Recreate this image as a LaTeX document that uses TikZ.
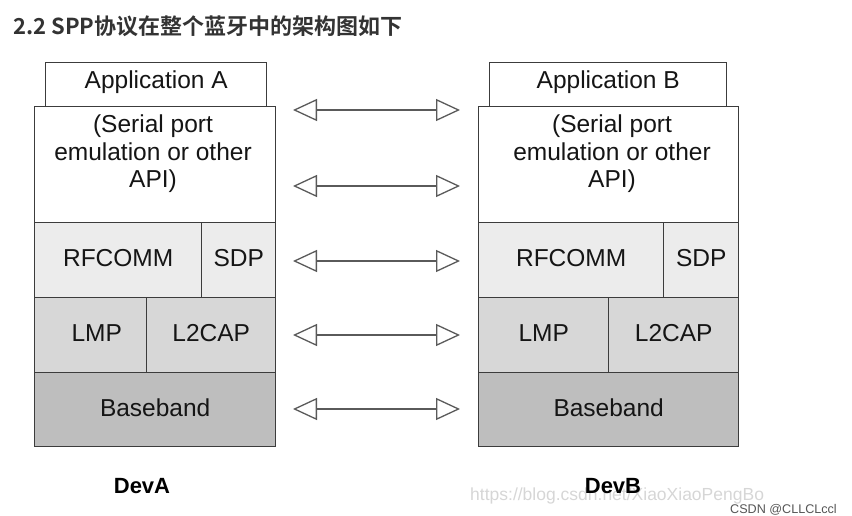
\documentclass[tikz,border=0pt]{standalone}
\usepackage{fontspec}
\setmainfont{Liberation Sans}
\newfontfamily\cjkb{Noto Sans CJK SC Bold}
\usetikzlibrary{arrows.meta}
\definecolor{boxc}{HTML}{3C3C3C}
\definecolor{rowa}{HTML}{ECECEC}
\definecolor{rowb}{HTML}{D7D7D7}
\definecolor{rowc}{HTML}{BEBEBE}
\definecolor{arrc}{HTML}{5A5A5A}
\definecolor{titlec}{HTML}{333333}
\definecolor{wmc}{HTML}{D6D6D6}
\definecolor{csdnc}{HTML}{555555}
\definecolor{txtc}{HTML}{151515}
\begin{document}
\begin{tikzpicture}[x=1pt,y=-1pt,
  cell/.style={draw=boxc, line width=1.4pt, anchor=north west, inner sep=0pt,
    font=\fontsize{24.5}{27.5}\selectfont, text=txtc, text depth=5pt},
  appcell/.style={cell, fill=white, text depth=11pt},
  sercell/.style={cell, fill=white},
  ra/.style={cell, fill=rowa},
  rb/.style={cell, fill=rowb},
  rc/.style={cell, fill=rowc},
  sertext/.style={align=center, inner sep=0pt, font=\fontsize{24.5}{27.5}\selectfont, text=txtc},
  biarrow/.style={draw=arrc, line width=1.3pt,
    {Triangle[open,length=24pt,width=22pt]}-{Triangle[open,length=24pt,width=22pt]}},
  devlabel/.style={anchor=base, inner sep=0pt, font=\fontsize{22}{26}\selectfont\bfseries},
]
\useasboundingbox (0,0) rectangle (852,516);

% title
\node[anchor=base west, inner sep=0pt, text=titlec, font=\fontsize{22}{26}\selectfont] (title) at (13,35) {\cjkb 2.2 SPP协议在整个蓝牙中的架构图如下};

% watermark
\node[anchor=base west, inner sep=0pt, text=wmc, font=\fontsize{17.5}{20}\selectfont] (wm) at (470,500) {https://blog.csdn.net/XiaoXiaoPengBo};
\node[anchor=base west, inner sep=0pt, text=csdnc, font=\fontsize{12.6}{15}\selectfont] (csdn) at (730,513) {CSDN @CLLCLccl};

% left stack
\node[appcell, minimum width=221pt, minimum height=44pt] (appA) at (45,62) {Application A};
\node[sercell, minimum width=241pt, minimum height=116pt] (serA) at (34,106) {};
\node[sertext] (serAt) at (153,154) {(Serial port\\emulation or other\\API)};
\node[ra, minimum width=167pt, minimum height=75pt] (rfA) at (34,222) {RFCOMM};
\node[ra, minimum width=74pt, minimum height=75pt] (sdpA) at (201,222) {SDP};
\node[rb, minimum width=112pt, minimum height=75pt] (lmpA) at (34,297) {\hspace*{12pt}LMP};
\node[rb, minimum width=129pt, minimum height=75pt] (l2A) at (146,297) {L2CAP};
\node[rc, minimum width=241pt, minimum height=74pt] (bbA) at (34,372) {Baseband};

% right stack
\node[appcell, minimum width=237pt, minimum height=44pt] (appB) at (489,62) {Application B};
\node[sercell, minimum width=260pt, minimum height=116pt] (serB) at (478,106) {};
\node[sertext] (serBt) at (612,154) {(Serial port\\emulation or other\\API)};
\node[ra, minimum width=185pt, minimum height=75pt] (rfB) at (478,222) {RFCOMM};
\node[ra, minimum width=75pt, minimum height=75pt] (sdpB) at (663,222) {SDP};
\node[rb, minimum width=130pt, minimum height=75pt] (lmpB) at (478,297) {LMP};
\node[rb, minimum width=130pt, minimum height=75pt] (l2B) at (608,297) {L2CAP};
\node[rc, minimum width=260pt, minimum height=74pt] (bbB) at (478,372) {Baseband};

% arrows
\foreach \i/\y in {1/110,2/186,3/261,4/335,5/409}{
  \coordinate (aL\i) at (293,\y);
  \coordinate (aR\i) at (460,\y);
  \draw[biarrow] (aL\i) -- (aR\i);
}

% device labels
\node[devlabel] (devA) at (142,493) {DevA};
\node[devlabel] (devB) at (613,493) {DevB};
\end{tikzpicture}
\end{document}
